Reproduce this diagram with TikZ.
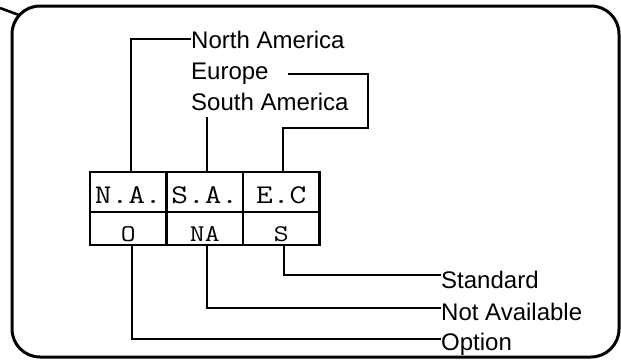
\documentclass[tikz,border=0pt]{standalone}
\usepackage{fontspec}
\setmainfont{Liberation Sans}
\tikzset{
  lbl/.style={inner sep=0pt, anchor=base west, font=\fontsize{24}{24}\selectfont},
  conn/.style={line width=2.2pt},
  frame/.style={line width=3pt, rounded corners=28pt},
  cellt/.style={draw, line width=2.2pt, minimum width=76.5pt, minimum height=40pt, inner sep=0pt,
    text height=22pt, text depth=0pt, font=\fontsize{27}{27}\selectfont\ttfamily},
  cellb/.style={draw, line width=2.2pt, minimum width=76.5pt, minimum height=33pt, inner sep=0pt,
    text height=25pt, text depth=0pt, font=\fontsize{24}{24}\selectfont\ttfamily}
}
\begin{document}
\begin{tikzpicture}[x=1pt,y=-1pt]
\useasboundingbox (0,0) rectangle (621,360);
% frame and callout
\draw[frame] (12,6) rectangle (619,357);
\coordinate (calloutA) at (0,8);
\coordinate (calloutB) at (19,15);
\draw[line width=2.6pt] (calloutA) -- (calloutB);
% table
\node[cellt] (cna) at (128.25,192) {\scalebox{1.2}[1]{N.A.}};
\node[cellt] (csa) at (204.75,192) {\scalebox{1.2}[1]{S.A.}};
\node[cellt] (cec) at (281.25,192) {\scalebox{1.2}[1]{E.C}};
\node[cellb] (co)  at (128.25,228.5) {\scalebox{1.2}[1]{O}};
\node[cellb] (cnav) at (204.75,228.5) {\scalebox{1.2}[1]{NA}};
\node[cellb] (cs)  at (281.25,228.5) {\scalebox{1.2}[1]{S}};
% top labels
\node[lbl] (lna) at (191,48) {North America};
\node[lbl] (leu) at (191,79) {Europe};
\node[lbl] (lsa) at (191,110) {South America};
% bottom labels
\node[lbl] (lstd) at (441,288) {Standard};
\node[lbl] (lnav) at (441,320) {Not Available};
\node[lbl] (lopt) at (441,350) {Option};
% top connectors
\draw[conn] ([xshift=3pt]cna.north) |- ([yshift=9pt]lna.base west);
\coordinate (ebend) at (368,128);
\draw[conn] ([xshift=19pt,yshift=5pt]leu.base east) -| (ebend) -| ([xshift=2pt]cec.north);
\coordinate (satop) at (207,117);
\draw[conn] (satop) -- (satop |- csa.north);
% bottom connectors
\draw[conn] ([xshift=4pt]co.south) |- ([yshift=11pt]lopt.base west);
\draw[conn] ([xshift=2.5pt]cnav.south) |- ([yshift=12pt]lnav.base west);
\draw[conn] ([xshift=3pt]cs.south) |- ([yshift=13pt]lstd.base west);
\end{tikzpicture}
\end{document}
